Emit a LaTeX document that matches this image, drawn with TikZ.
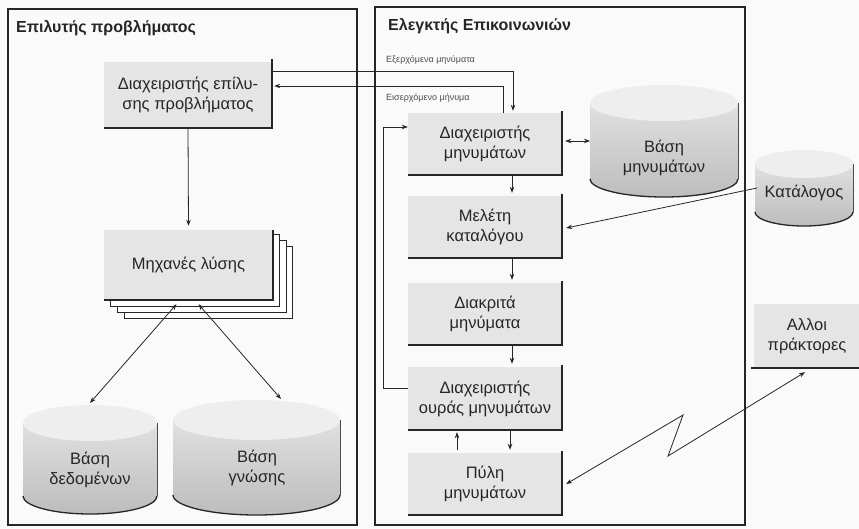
\documentclass[tikz,border=0pt]{standalone}
\usepackage{fontspec}
\setmainfont{Liberation Sans}
\usetikzlibrary{arrows.meta,calc}

% cylinder drawn from left x, right x, top y, bottom y, end radius
\newcommand\drum[5]{%
  \pgfmathsetmacro\dcx{(#1+#2)/2}%
  \pgfmathsetmacro\drx{(#2-#1)/2}%
  \pgfmathsetmacro\dyt{#3+#5}%
  \pgfmathsetmacro\dyb{#4-#5}%
  \pgfmathsetmacro\dk{0.5523*#5}%
  \pgfmathsetmacro\dkx{0.5523*\drx}%
  \fill[top color=gray!24, bottom color=gray!52]
    (#1,\dyt) -- (#1,\dyb)
    .. controls (#1,\dyb+\dk) and (\dcx-\dkx,#4) .. (\dcx,#4)
    .. controls (\dcx+\dkx,#4) and (#2,\dyb+\dk) .. (#2,\dyb)
    -- (#2,\dyt) -- cycle;
  \fill[gray!13] (\dcx,\dyt) ellipse [x radius=\drx, y radius=#5];
  \draw[line width=1.3pt, black!85] (#1,\dyb)
    .. controls (#1,\dyb+\dk) and (\dcx-\dkx,#4) .. (\dcx,#4)
    .. controls (\dcx+\dkx,#4) and (#2,\dyb+\dk) .. (#2,\dyb);
  \draw[line width=0.9pt, black!70] (#2,\dyt) -- (#2,\dyb);
}

\begin{document}
\begin{tikzpicture}[x=1pt,y=-1pt,
  frame/.style={draw=black!85, line width=1.6pt},
  box/.style={fill=gray!20, inner sep=0pt, align=center,
    font=\fontsize{16.5}{20}\selectfont, text=black!85},
  edgeL/.style={draw=black!85, line width=1.8pt},
  layer/.style={draw=black!85, fill=white, line width=1pt},
  title/.style={font=\fontsize{16}{18}\selectfont\bfseries, anchor=west,
    inner sep=0pt, text=black!85},
  small/.style={font=\fontsize{9}{10}\selectfont, anchor=west, inner sep=0pt,
    text=black!70},
  cyltext/.style={align=center, inner sep=0pt,
    font=\fontsize{16.5}{20}\selectfont, text=black!85},
  arr/.style={draw=black!85, line width=0.8pt,
    -{Stealth[length=6pt,width=4.5pt]}},
  darr/.style={draw=black!85, line width=0.8pt,
    {Stealth[length=6pt,width=4.5pt]}-{Stealth[length=6pt,width=4.5pt]}}
]
\fill[gray!4] (0,0) rectangle (859,529);
\useasboundingbox (0,0) rectangle (859,529);

% panels
\draw[frame] (8,9) rectangle (357,525);
\draw[frame] (375,7) rectangle (745,525);
\node[title] (t1) at (16,28) {Επιλυτής προβλήματος};
\node[title] (t2) at (388,26) {Ελεγκτής Επικοινωνιών};

% ---- problem solver side ----
\node[box, minimum width=168pt, minimum height=66pt] (psm) at (188,95)
  {Διαχειριστής επίλυ-\\σης προβλήματος};
\draw[edgeL] ([yshift=3pt]psm.north east) -- (psm.south east) -- (psm.south west);

% stacked solution engines
\draw[layer] (124,247) rectangle (292,318);
\draw[layer] (117,241) rectangle (286,312);
\draw[layer] (110,235) rectangle (279,306);
\node[box, minimum width=169pt, minimum height=70pt] (engines) at (188.5,265)
  {Μηχανές λύσης};
\draw[edgeL] (engines.north east) -- (engines.south east) -- (engines.south west);

\draw[arr] (psm.south) -- ([yshift=4pt]engines.north);

% databases
\drum{23}{157}{405}{514}{18}
\drum{173}{340}{400}{515}{20}
\node[cyltext] (dbdata) at (90,470) {Βάση\\δεδομένων};
\node[cyltext] (dbknow) at (257,468) {Βάση\\γνώσης};
\coordinate (dbdataTop) at (90,403);
\coordinate (dbknowTop) at (281,399);
\draw[darr] ([xshift=-12pt,yshift=-4pt]engines.south) -- (dbdataTop);
\draw[darr] ([xshift=10pt,yshift=-4pt]engines.south) -- (dbknowTop);

% ---- communication controller side ----
\node[box, minimum width=154pt, minimum height=62pt] (msgmgr) at (485,144)
  {Διαχειριστής\\μηνυμάτων};
\node[box, minimum width=154pt, minimum height=62pt] (catstudy) at (485,227)
  {Μελέτη\\καταλόγου};
\node[box, minimum width=154pt, minimum height=62pt] (discrete) at (485,314)
  {Διακριτά\\μηνύματα};
\node[box, minimum width=154pt, minimum height=63pt] (queue) at (485,398.5)
  {Διαχειριστής\\ουράς μηνυμάτων};
\node[box, minimum width=154pt, minimum height=62pt] (gateway) at (485,484)
  {Πύλη\\μηνυμάτων};
\foreach \n in {msgmgr,catstudy,discrete,queue,gateway}
  \draw[edgeL] ([yshift=2pt]\n.north east) -- (\n.south east) -- (\n.south west);

\draw[arr] ([xshift=27pt]msgmgr.south) -- ([xshift=27pt,yshift=3pt]catstudy.north);
\draw[arr] ([xshift=27pt]catstudy.south) -- ([xshift=27pt,yshift=3pt]discrete.north);
\draw[arr] ([xshift=27pt]discrete.south) -- ([xshift=27pt,yshift=3pt]queue.north);
\draw[arr] ([xshift=25pt]queue.south) -- ([xshift=25pt,yshift=3pt]gateway.north);
\draw[arr] ([xshift=-28pt,yshift=3pt]gateway.north) -- ([xshift=-28pt,yshift=-2pt]queue.south);

% feedback from queue manager to message manager
\coordinate (fbA) at (383,388);
\coordinate (fbB) at (383,127);
\draw[arr] (queue.west |- fbA) -- (fbA) -- (fbB) -- (msgmgr.west |- fbB);

% messages between the two controllers
\coordinate (outY) at (0,71);
\coordinate (inY) at (0,86);
\draw[arr] (psm.east |- outY) -| ([xshift=28pt,yshift=2pt]msgmgr.north);
\draw[arr] ([xshift=18pt]msgmgr.north) |- ([xshift=2pt]psm.east |- inY);
\node[small] (outlbl) at (386,60) {Εξερχόμενα μηνύματα};
\node[small] (inlbl) at (386,98) {Εισερχόμενο μήνυμα};

% message base
\drum{590}{738}{85}{197}{18}
\node[cyltext] (msgbase) at (664,158) {Βάση\\μηνυμάτων};
\coordinate (msgbaseW) at (590,141);
\draw[darr] ([xshift=3pt]msgmgr.east |- msgbaseW) -- (msgbaseW);

% catalogue
\drum{755}{853}{150}{226}{14}
\node[cyltext] (catalog) at (804,193) {Κατάλογος};
\coordinate (catalogW) at (757,188);
\draw[arr] (catalogW) -- ([xshift=4pt,yshift=-1pt]catstudy.east);

% other agents
\node[box, minimum width=106pt, minimum height=64pt] (others) at (807,336)
  {Αλλοι\\πράκτορες};
\draw[edgeL] ([xshift=-3pt]others.south west) -- ([xshift=2pt]others.south east);
\coordinate (zigA) at (683,415);
\coordinate (zigB) at (668,456);
\draw[darr] ([xshift=4pt]gateway.east) -- (zigA) -- (zigB) -- ([xshift=-2pt,yshift=-4pt]others.south);
\end{tikzpicture}
\end{document}
